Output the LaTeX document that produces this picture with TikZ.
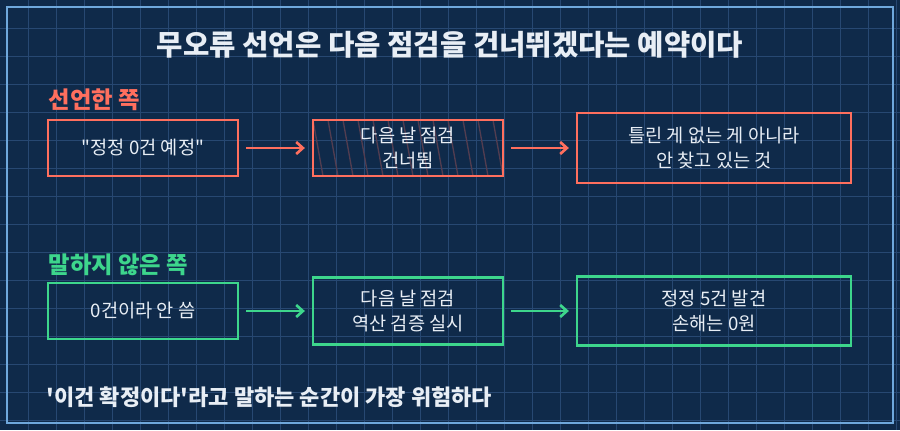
\documentclass[tikz,border=0pt]{standalone}
\usepackage{fontspec}
\setmainfont{Noto Sans CJK KR}[Ligatures=NoCommon,Mapping=]
\usetikzlibrary{arrows.meta,positioning}
\definecolor{bg}{HTML}{0F2A4A}
\definecolor{gridc}{HTML}{274872}
\definecolor{frame}{HTML}{6FA8DC}
\definecolor{said}{HTML}{FF6F5E}
\definecolor{unsaid}{HTML}{3DD68C}
\definecolor{txt}{HTML}{E8EEF5}
\tikzset{
	box/.style={draw,line width=2.2pt,text=txt,align=center,font=\fontsize{14}{19}\selectfont},
	flow/.style={line width=2pt,-{Straight Barb[length=5pt,width=9pt]}},
	side/.style={anchor=west,font=\fontsize{17.5}{20}\selectfont\bfseries}
}
\begin{document}
\begin{tikzpicture}[x=0.75pt,y=-0.75pt]
	\fill[bg] (0,0) rectangle (900,430);
	\useasboundingbox (0,0) rectangle (900,430);
	\foreach \i in {28,56,...,896}
	{
		\draw[gridc,line width=0.75pt] (\i,0) -- (\i,430);
	}
	\foreach \j in {28,56,...,428}
	{
		\draw[gridc,line width=0.75pt] (0,\j) -- (900,\j);
	}
	\draw[frame,line width=1.6pt] (7,7) rectangle (893,423);
	\node[text=txt,font=\fontsize{21.5}{24}\selectfont\bfseries] (title) at (450,45) {무오류 선언은 다음 점검을 건너뛰겠다는 예약이다};
	% declared side
	\node[side,text=said] (saidlbl) at (44,100) {선언한 쪽};
	\begin{scope}
		\clip (313,120) rectangle (503,176);
		\foreach \k in {0,15,...,200}
		{
			\draw[said!28!bg,line width=1pt] (313+\k,120) -- (323+\k,176);
		}
	\end{scope}
	\node[box,draw=said,minimum width=190*0.75pt,minimum height=56*0.75pt] (s1) at (143,148) {\char"22 정정 0건 예정\char"22};
	\node[box,draw=said,minimum width=190*0.75pt,minimum height=56*0.75pt] (s2) at (408,148) {다음 날 점검\\건너뜀};
	\node[box,draw=said,minimum width=274*0.75pt,minimum height=70*0.75pt] (s3) at (714,148) {틀린 게 없는 게 아니라\\안 찾고 있는 것};
	\draw[flow,said] ([xshift=5pt]s1.east) -- ([xshift=-5pt]s2.west);
	\draw[flow,said] ([xshift=5pt]s2.east) -- ([xshift=-5pt]s3.west);
	% unsaid side
	\node[side,text=unsaid] (unsaidlbl) at (44,265) {말하지 않은 쪽};
	\node[box,draw=unsaid,minimum width=190*0.75pt,minimum height=56*0.75pt] (u1) at (143,311) {0건이라 안 씀};
	\node[box,draw=unsaid,minimum width=190*0.75pt,minimum height=67*0.75pt] (u2) at (408,311) {다음 날 점검\\역산 검증 실시};
	\node[box,draw=unsaid,minimum width=274*0.75pt,minimum height=69*0.75pt] (u3) at (714,311) {정정 5건 발견\\손해는 0원};
	\draw[flow,unsaid] ([xshift=5pt]u1.east) -- ([xshift=-5pt]u2.west);
	\draw[flow,unsaid] ([xshift=5pt]u2.east) -- ([xshift=-5pt]u3.west);
	\node[anchor=west,text=txt,font=\fontsize{16.5}{19}\selectfont\bfseries] (moral) at (42,397) {\char"27 이건 확정이다\char"27 라고 말하는 순간이 가장 위험하다};
\end{tikzpicture}
\end{document}
